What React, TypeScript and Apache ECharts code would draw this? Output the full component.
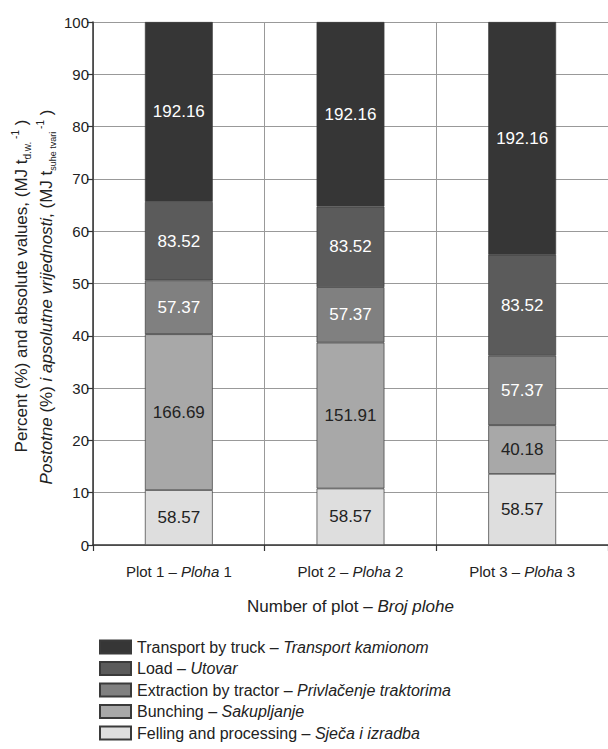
import React, { useEffect, useRef } from "react";
import * as echarts from "echarts";

const categories = ["Plot 1 – Ploha 1", "Plot 2 – Ploha 2", "Plot 3 – Ploha 3"];
const seriesNames = [
  "Felling and processing – Sječa i izradba",
  "Bunching – Sakupljanje",
  "Extraction by tractor – Privlačenje traktorima",
  "Load – Utovar",
  "Transport by truck – Transport kamionom",
];
// segment heights in percent
const fellingPct = [10.5, 10.8, 13.6];
const bunchingPct = [29.8, 27.9, 9.3];
const extractionPct = [10.3, 10.6, 13.3];
const loadPct = [15.0, 15.4, 19.3];
const transportPct = [34.4, 35.3, 44.5];
// absolute values written in the bars (MJ t-1)
const fellingAbs = [58.57, 58.57, 58.57];
const bunchingAbs = [166.69, 151.91, 40.18];
const extractionAbs = [57.37, 57.37, 57.37];
const loadAbs = [83.52, 83.52, 83.52];
const transportAbs = [192.16, 192.16, 192.16];
const yTicks = [0, 10, 20, 30, 40, 50, 60, 70, 80, 90, 100];

const FONT = "'Liberation Sans', Arial, sans-serif";

export default function App() {
  const ref = useRef<HTMLDivElement>(null);
  useEffect(() => {
    if (!ref.current) return;
    const chart = echarts.init(ref.current, null, { renderer: "svg" });
    const pcts = [fellingPct, bunchingPct, extractionPct, loadPct, transportPct];
    const abss = [fellingAbs, bunchingAbs, extractionAbs, loadAbs, transportAbs];
    const colors = ["#dedede", "#a8a8a8", "#808080", "#5b5b5b", "#363636"];
    const labelColors = ["#222", "#222", "#fff", "#fff", "#fff"];
    const series = seriesNames.map((name, si) => ({
      name,
      type: "bar",
      stack: "total",
      barWidth: "39.5%",
      data: pcts[si],
      itemStyle: { color: colors[si], borderColor: "#3a3a3a", borderWidth: 0.7 },
      label: {
        show: true,
        position: "inside",
        color: labelColors[si],
        fontFamily: FONT,
        fontSize: 17,
        formatter: (p: any) => abss[si][p.dataIndex].toFixed(2),
      },
    }));
    const legendFmt = (name: string) => {
      const [a, b] = name.split(" – ");
      return `{n|${a} – }{i|${b}}`;
    };
    chart.setOption({
      animation: false,
      textStyle: { fontFamily: FONT },
      grid: { left: 93, right: -4, top: 22, bottom: 204, containLabel: false },
      legend: {
        orient: "vertical",
        left: 94,
        top: 634,
        itemWidth: 31,
        itemHeight: 13,
        itemGap: 5.5,
        icon: "rect",
        data: seriesNames.slice().reverse(),
        formatter: legendFmt,
        textStyle: {
          fontFamily: FONT,
          fontSize: 16,
          color: "#222",
          padding: [0, 0, 0, 1],
          rich: {
            n: { fontFamily: FONT, fontSize: 16, color: "#222", lineHeight: 18 },
            i: { fontFamily: FONT, fontSize: 16, color: "#222", fontStyle: "italic", lineHeight: 18 },
          },
        },
      },
      xAxis: {
        type: "category",
        data: categories,
        name: "Number of plot – {i|Broj plohe}",
        nameLocation: "middle",
        nameGap: 53,
        nameTextStyle: {
          fontFamily: FONT,
          fontSize: 17,
          color: "#222",
          rich: { i: { fontFamily: FONT, fontSize: 17, color: "#222", fontStyle: "italic" } },
        },
        axisLine: { lineStyle: { color: "#333", width: 1.5 } },
        axisTick: { show: true, length: 6, lineStyle: { color: "#333", width: 1.2 } },
        splitLine: { show: true, lineStyle: { color: "#999", width: 1 } },
        axisLabel: {
          margin: 19,
          fontFamily: FONT,
          fontSize: 15,
          color: "#222",
          formatter: (v: string) => v.replace("Ploha", "{i|Ploha}"),
          rich: { i: { fontFamily: FONT, fontSize: 15, color: "#222", fontStyle: "italic" } },
        },
      },
      yAxis: {
        type: "value",
        min: yTicks[0],
        max: yTicks[yTicks.length - 1],
        interval: 10,
        axisLine: { show: true, lineStyle: { color: "#333", width: 1.5 } },
        axisTick: { show: true, length: 6, lineStyle: { color: "#333", width: 1.2 } },
        splitLine: { show: true, lineStyle: { color: "#999", width: 1 } },
        axisLabel: { fontFamily: FONT, fontSize: 15, color: "#222", margin: 4 },
      },
      graphic: [
        {
          type: "text",
          x: 21,
          y: 286,
          rotation: Math.PI / 2,
          style: {
            text: "Percent (%) and absolute values, (MJ t{sub|d.w.}{sup| -1}{n| )}",
            font: `17px ${FONT}`,
            fill: "#222",
            align: "center",
            verticalAlign: "middle",
            rich: {
              sub: { fontFamily: FONT, fontSize: 10, fill: "#222", verticalAlign: "bottom", lineHeight: 22 },
              sup: { fontFamily: FONT, fontSize: 10, fill: "#222", verticalAlign: "top", lineHeight: 22 },
              n: { fontFamily: FONT, fontSize: 17, fill: "#222", lineHeight: 22 },
            },
          },
        },
        {
          type: "text",
          x: 46,
          y: 297,
          rotation: Math.PI / 2,
          style: {
            text: "{i|Postotne} (%) {i|i apsolutne vrijednosti}, (MJ t{sub|suhe tvari}{sup| -1}{n| )}",
            font: `17px ${FONT}`,
            fill: "#222",
            align: "center",
            verticalAlign: "middle",
            rich: {
              i: { fontFamily: FONT, fontSize: 17, fill: "#222", fontStyle: "italic", lineHeight: 22 },
              sub: { fontFamily: FONT, fontSize: 9, fill: "#222", verticalAlign: "bottom", lineHeight: 22 },
              sup: { fontFamily: FONT, fontSize: 10, fill: "#222", verticalAlign: "top", lineHeight: 22 },
              n: { fontFamily: FONT, fontSize: 17, fill: "#222", lineHeight: 22 },
            },
          },
        },
      ],
      series,
    });
    return () => chart.dispose();
  }, []);
  return (
    <div
      ref={ref}
      style={{ position: "absolute", left: 0, top: 0, width: 608, height: 749, background: "#fff" }}
    />
  );
}
